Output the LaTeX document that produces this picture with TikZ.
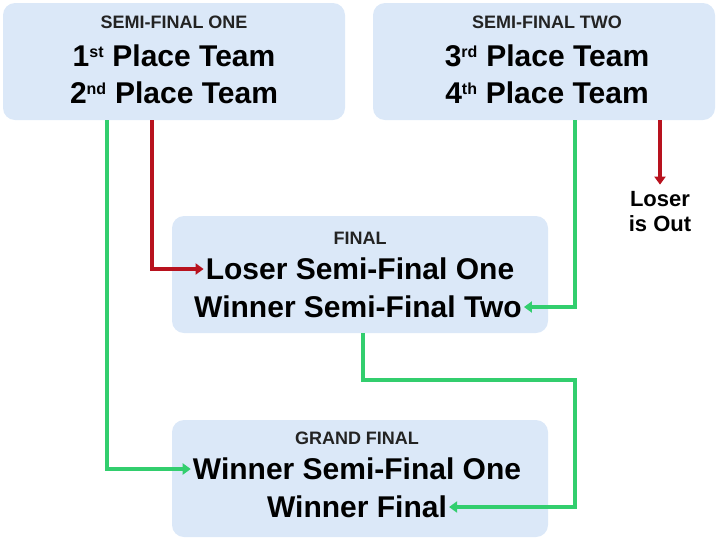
\documentclass[tikz,border=0pt]{standalone}
\usepackage{fontspec}
\setmainfont{Liberation Sans}
\usepackage{xcolor}
\definecolor{boxblue}{RGB}{219,232,248}
\definecolor{wingreen}{RGB}{50,206,110}
\definecolor{losered}{RGB}{184,18,30}
\definecolor{headgray}{RGB}{35,35,35}
\usetikzlibrary{
  arrows.meta,
  positioning,
  calc
}
\newcommand{\ordmark}[1]{\textsuperscript{\fontsize{16}{16}\selectfont #1}}

\begin{document}
\begin{tikzpicture}[x=1pt, y=-1pt, >={Triangle[length=8pt,width=11pt]},
  stagebox/.style={fill=boxblue, rounded corners=12pt, inner sep=0pt,
    minimum height=117pt},
  stagehead/.style={font=\fontsize{18}{20}\selectfont\bfseries,
    text=headgray, inner sep=1pt},
  teamline/.style={font=\fontsize{30}{32}\selectfont\bfseries, inner sep=2pt},
  winline/.style={->, wingreen, line width=3.6pt},
  loseline/.style={->, losered, line width=3.6pt}]

  \useasboundingbox (0,0) rectangle (720,542);

  %% ===== SEMI-FINALS (top row) =====
  \node[stagebox, minimum width=342pt] (sfone) at (174,61.5) {};
  \node[stagehead] (sfonehead) at (174,22) {SEMI-FINAL ONE};
  \node[teamline] (sfoneA) at (174,56) {1\ordmark{st} Place Team};
  \node[teamline] (sfoneB) at (174,93) {2\ordmark{nd} Place Team};

  \node[stagebox, minimum width=342pt] (sftwo) at (544,61.5) {};
  \node[stagehead] (sftwohead) at (547,22) {SEMI-FINAL TWO};
  \node[teamline] (sftwoA) at (547,56) {3\ordmark{rd} Place Team};
  \node[teamline] (sftwoB) at (547,93) {4\ordmark{th} Place Team};

  %% ===== FINAL =====
  \node[stagebox, minimum width=376pt] (final) at (360,274.5) {};
  \node[stagehead] (finalhead) at (360,238) {FINAL};
  \node[teamline] (finalA) at (360,269) {Loser Semi-Final One};
  \node[teamline] (finalB) at (358,307) {Winner Semi-Final Two};

  %% ===== GRAND FINAL =====
  \node[stagebox, minimum width=376pt] (gfinal) at (360,478.5) {};
  \node[stagehead] (gfinalhead) at (357,438) {GRAND FINAL};
  \node[teamline] (gfinalA) at (357,469) {Winner Semi-Final One};
  \node[teamline] (gfinalB) at (357,507) {Winner Final};

  % Loser of semi-final two
  \node[font=\fontsize{22}{25}\selectfont\bfseries, align=center,
    inner sep=1pt] (outnote) at (660,212) {Loser\\is Out};

  %% ===== CONNECTORS =====
  \coordinate (turn) at (575,380);

  \draw[winline]  ([xshift=-67pt]sfone.south) |- (gfinalA.west);
  \draw[loseline] ([xshift=-22pt]sfone.south) |- (finalA.west);
  \draw[winline]  ([xshift=31pt]sftwo.south) |- (finalB.east);
  \draw[loseline, shorten >=6pt] ([xshift=116pt]sftwo.south) -- (outnote.north);
  \draw[winline]  ([xshift=3pt]final.south) |- (turn) |- (gfinalB.east);

\end{tikzpicture}
\end{document}
